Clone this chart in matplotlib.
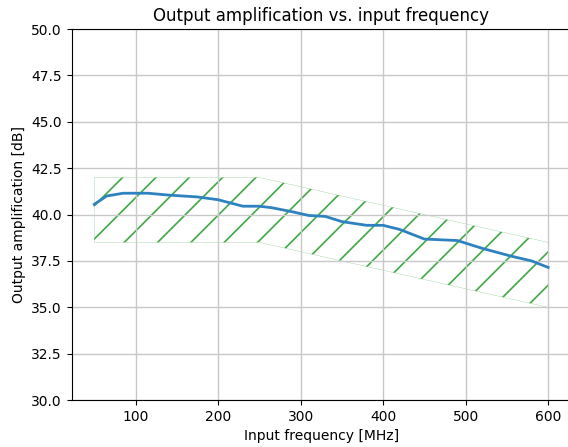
import numpy as np
import matplotlib.pyplot as plt

freq = [50, 65, 85, 115, 140, 175, 200, 230, 250, 265, 290, 310, 330,
        350, 380, 400, 420, 450, 490, 520, 555, 580, 600]
gain = [40.55, 41.0, 41.15, 41.15, 41.05, 40.95, 40.8, 40.45, 40.45,
        40.37, 40.15, 39.95, 39.9, 39.62, 39.42, 39.42, 39.2, 38.68,
        38.6, 38.18, 37.76, 37.5, 37.15]

# tolerance band
band_x = [50, 250, 600]
band_hi = [42.0, 42.0, 38.5]
band_lo = [38.5, 38.5, 35.0]

plt.rcParams['hatch.linewidth'] = 1.2
fig = plt.figure(figsize=(5.68, 4.47), dpi=100)
ax = fig.add_axes([0.126, 0.105, 0.879, 0.830])
ax.fill_between(band_x, band_lo, band_hi, facecolor='none',
                edgecolor='#3fa845', hatch='/', linewidth=0.15)
ax.plot(freq, gain, c='#2f82c0', lw=2)
ax.set_ylim(30, 50)
ax.set_xlim(22.5, 627.5)
ax.set_xticks([100, 200, 300, 400, 500, 600])
ax.grid(True, color='#c8c8c8', lw=1)
ax.set_title('Output amplification vs. input frequency')
ax.set_xlabel('Input frequency [MHz]')
ax.set_ylabel('Output amplification [dB]')
fig.savefig('out.png', dpi=100)
